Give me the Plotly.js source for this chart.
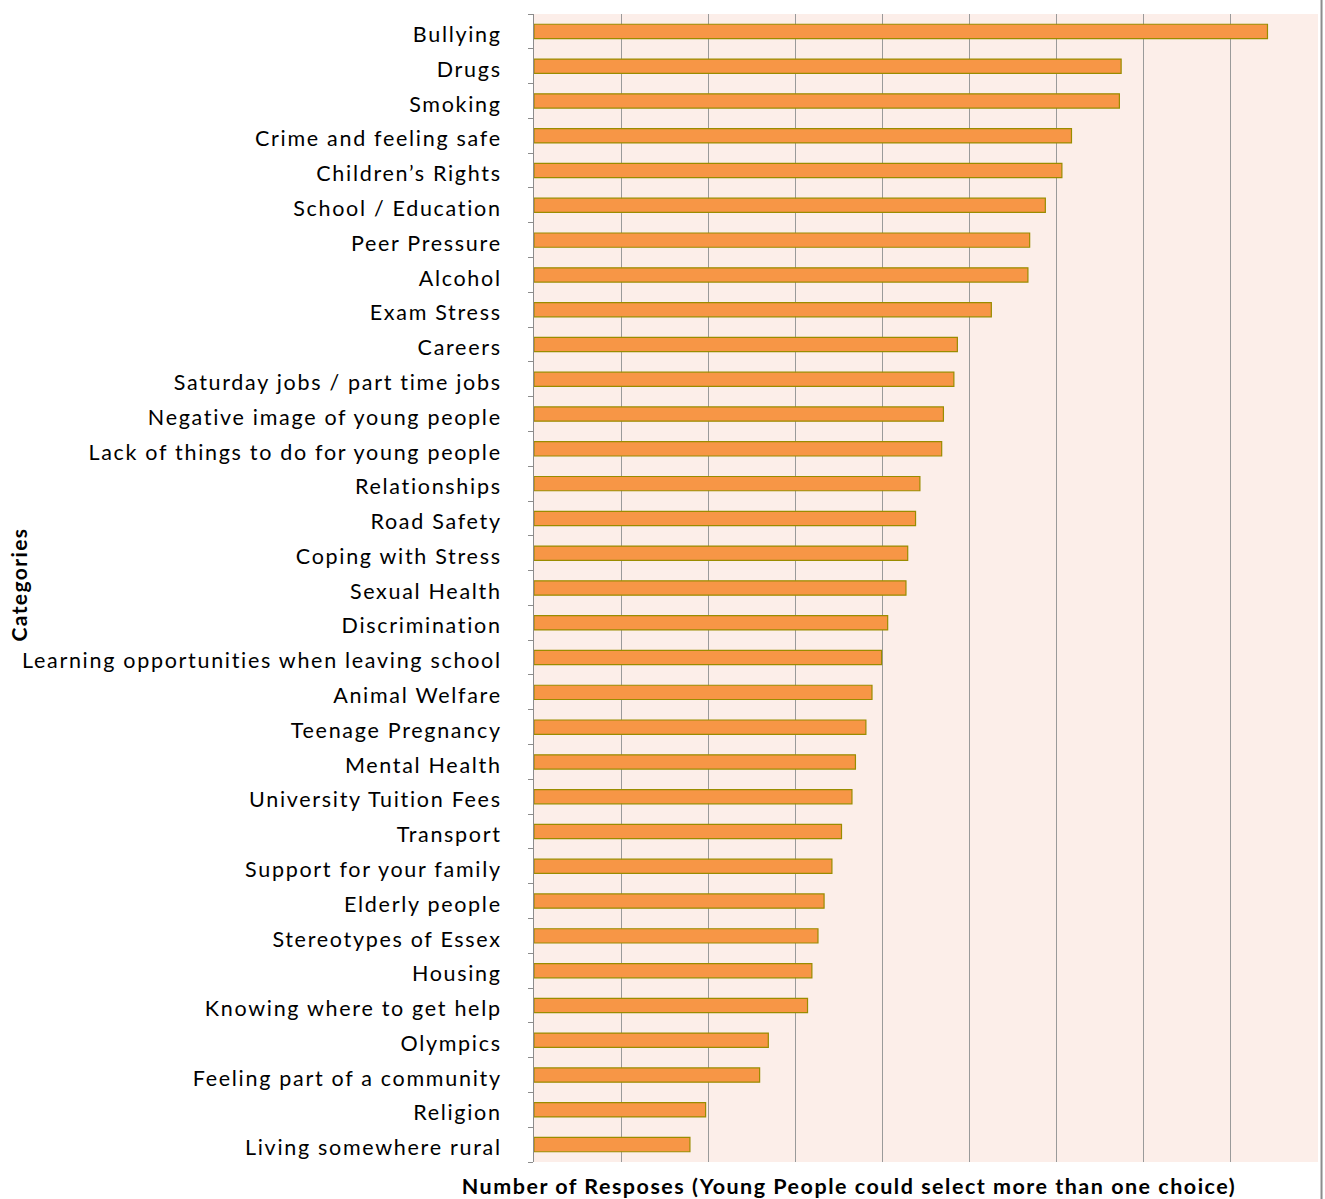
<!DOCTYPE html>
<html>
<head>
<meta charset="utf-8">
<script src="https://cdn.plot.ly/plotly-3.0.1.min.js"></script>
<style>
html,body{margin:0;padding:0;background:#fff;}
#chart{width:1325px;height:1199px;}
#chart .ytick text{letter-spacing:1.7px;}
#chart g.annotation[data-index="0"] text{letter-spacing:1.5px;}
#chart g.annotation[data-index="1"] text{letter-spacing:1.4px;}
</style>
</head>
<body>
<div id="chart"></div>
<script>
const categories = [
  "Bullying", "Drugs", "Smoking", "Crime and feeling safe", "Children’s Rights",
  "School / Education", "Peer Pressure", "Alcohol", "Exam Stress", "Careers",
  "Saturday jobs / part time jobs", "Negative image of young people",
  "Lack of things to do for young people", "Relationships", "Road Safety",
  "Coping with Stress", "Sexual Health", "Discrimination",
  "Learning opportunities when leaving school", "Animal Welfare",
  "Teenage Pregnancy", "Mental Health", "University Tuition Fees", "Transport",
  "Support for your family", "Elderly people", "Stereotypes of Essex",
  "Housing", "Knowing where to get help", "Olympics",
  "Feeling part of a community", "Religion", "Living somewhere rural"
];
const responses = [
  842, 674, 672, 617, 606, 587, 569, 567, 525, 486,
  482, 470, 468, 443, 438, 429, 427, 406, 399, 388,
  381, 369, 365, 353, 342, 333, 326, 319, 314, 269,
  259, 197, 179
];
const xTitle = "Number of Resposes (Young People could select more than one choice)";
const yTitle = "Categories";

const idx = categories.map((c, i) => i);
const labelPos = idx.map(i => i + 0.09);
const boundaries = categories.map((c, i) => i - 0.5).concat([categories.length - 0.5]);
const yRange = [categories.length - 0.5, -0.5];

const traces = [
  {
    type: 'bar', orientation: 'h',
    x: responses, y: idx,
    width: 0.41,
    marker: {color: '#F79646', line: {color: '#9A8C00', width: 1.2}},
    hoverinfo: 'x+text', text: categories, textposition: 'none'
  },
  {
    type: 'scatter', mode: 'markers',
    x: boundaries.map(() => 0), y: boundaries,
    yaxis: 'y2', marker: {opacity: 0, size: 1}, hoverinfo: 'skip', showlegend: false
  }
];

const layout = {
  width: 1325, height: 1199,
  margin: {l: 533.5, r: 6.5, t: 14, b: 37, pad: 0},
  paper_bgcolor: '#ffffff',
  plot_bgcolor: '#FCEEE9',
  showlegend: false,
  font: {family: 'Lato, "Open Sans", sans-serif', color: '#000'},
  xaxis: {
    range: [0, 900], dtick: 100, tick0: 0,
    showgrid: true, gridcolor: '#9a9a9a', gridwidth: 1,
    showticklabels: false, ticks: '', zeroline: false, showline: false,
    fixedrange: true
  },
  yaxis: {
    range: yRange, tickmode: 'array', tickvals: labelPos, ticktext: categories,
    ticks: '', showgrid: false, zeroline: false,
    showline: true, linecolor: '#8c8c8c', linewidth: 1,
    ticklabelstandoff: 27,
    tickfont: {family: 'Lato, "Open Sans", sans-serif', size: 21.5, color: '#000'},
    automargin: false, fixedrange: true
  },
  yaxis2: {
    overlaying: 'y', side: 'left', range: yRange,
    tickmode: 'array', tickvals: boundaries,
    ticks: 'outside', ticklen: 5, tickcolor: '#8c8c8c', tickwidth: 1,
    showticklabels: false, showgrid: false, zeroline: false, showline: false,
    automargin: false, fixedrange: true
  },
  annotations: [
    {
      text: '<b>' + xTitle + '</b>', xref: 'paper', yref: 'paper',
      x: 0.402, y: -0.0205, xanchor: 'center', yanchor: 'middle', showarrow: false,
      font: {family: 'Lato, "Open Sans", sans-serif', size: 21.5, color: '#000'}
    },
    {
      text: '<b>' + yTitle + '</b>', xref: 'paper', yref: 'paper',
      x: -0.657, y: 0.503, xanchor: 'center', yanchor: 'middle', showarrow: false,
      textangle: -90,
      font: {family: 'Lato, "Open Sans", sans-serif', size: 21, color: '#000'}
    }
  ],
  shapes: [
    {type: 'line', xref: 'paper', yref: 'paper', x0: 1.0045, x1: 1.0045, y0: -0.04, y1: 1.02,
     line: {color: '#8c8c8c', width: 2}}
  ]
};

Plotly.newPlot('chart', traces, layout, {displayModeBar: false, staticPlot: true});
</script>
</body>
</html>
